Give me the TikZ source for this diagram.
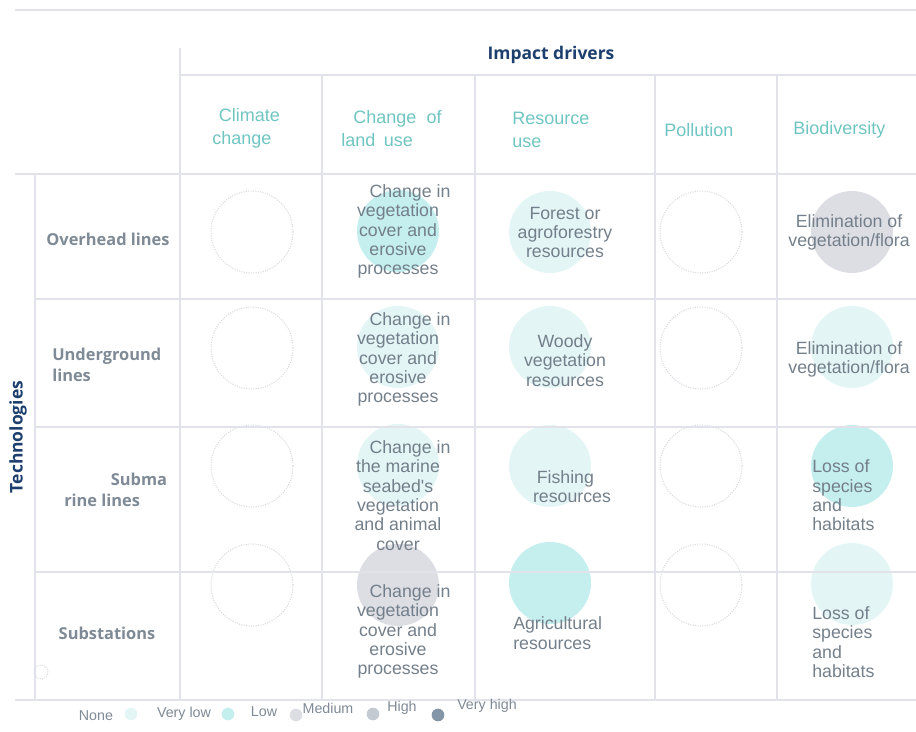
\documentclass[tikz,border=0pt]{standalone}
\usepackage{fontspec}
\setmainfont{Liberation Sans}
\newfontfamily\labelfont{Open Sans}
\definecolor{gridgray}{HTML}{E2E3EA}
\definecolor{navy}{HTML}{1D3F6E}
\definecolor{drvteal}{HTML}{6FC5C1}
\definecolor{rowgray}{HTML}{7E8A95}
\definecolor{celltxt}{HTML}{737F8A}
\definecolor{lvnone}{HTML}{D6DADF}
\definecolor{lvvlow}{HTML}{E4F5F5}
\definecolor{lvlow}{HTML}{C5EEEE}
\definecolor{lvmed}{HTML}{DCDEE3}
\definecolor{lvhigh}{HTML}{C4CAD1}
\definecolor{lvvhigh}{HTML}{8395A7}
\begin{document}
\begin{tikzpicture}[x=0.75pt, y=-0.75pt,
  gridline/.style={draw=gridgray, line width=1.4pt},
  cellcircle/.style={circle, inner sep=0pt, minimum size=61.5pt},
  nonedot/.style={cellcircle, draw=lvnone, densely dotted, line width=0.8pt},
  celltext/.style={inner sep=0pt, align=center, text=celltxt,
    font=\fontsize{13.3}{14.5}\selectfont},
  drvhead/.style={inner sep=0pt, anchor=west, align=left, text=drvteal,
    font=\fontsize{13.5}{17.2}\selectfont},
  techlabel/.style={inner sep=0pt, text=rowgray,
    font=\labelfont\bfseries\fontsize{12.3}{15.8}\selectfont},
  navyhead/.style={inner sep=0pt, text=navy,
    font=\labelfont\bfseries\fontsize{13.1}{16}\selectfont},
  legtext/.style={inner sep=0pt, text=rowgray, font=\fontsize{10.7}{12}\selectfont},
  legdot/.style={circle, inner sep=0pt, minimum size=9.5pt}]
  \useasboundingbox (0,0) rectangle (916,731);

  % impact circles
  \node[cellcircle, fill=lvlow] (ovh-land) at (398,231) {};
  \node[cellcircle, fill=lvvlow] (und-land) at (398,347) {};
  \node[cellcircle, fill=lvvlow] (sub-land) at (398,465) {};
  \node[cellcircle, fill=lvmed] (sst-land) at (398,585) {};
  \node[cellcircle, fill=lvvlow] (ovh-res) at (550,232) {};
  \node[cellcircle, fill=lvvlow] (und-res) at (550,347) {};
  \node[cellcircle, fill=lvvlow] (sub-res) at (550,466) {};
  \node[cellcircle, fill=lvlow] (sst-res) at (550,583) {};
  \node[cellcircle, fill=lvmed] (ovh-bio) at (852,232) {};
  \node[cellcircle, fill=lvvlow] (und-bio) at (852,347) {};
  \node[cellcircle, fill=lvlow] (sub-bio) at (852,466) {};
  \node[cellcircle, fill=lvvlow] (sst-bio) at (852,584) {};
  \foreach \r/\y in {ovh/232, und/348, sub/466, sst/585} {
    \node[nonedot] (\r-clim) at (252,\y) {};
    \node[nonedot] (\r-poll) at (701,\y) {};
  }

  % grid
  \draw[gridline] (15,10) -- (916,10);
  \draw[gridline] (180,48) -- (180,700);
  \draw[gridline] (180,75) -- (916,75);
  \draw[gridline] (15,174) -- (916,174);
  \foreach \y in {299,427,572}
    \draw[gridline] (35,\y) -- (916,\y);
  \draw[gridline] (15,700) -- (916,700);
  \draw[gridline] (35,174) -- (35,700);
  \foreach \x in {322,475,655,777}
    \draw[gridline] (\x,75) -- (\x,700);

  % headers
  \node[navyhead] (drivers) at (551,55) {Impact drivers};
  \node[navyhead, rotate=90] (techs) at (18,437) {Technologies};
  \node[drvhead] (h-clim) at (212,128.5) {\hspace*{5pt}Climate\\change};
  \node[drvhead] (h-land) at (341,128.5) {\hspace*{9pt}Change\hspace{0.3em} of\\land\hspace{0.2em} use};
  \node[drvhead] (h-res) at (512,130) {Resource\\use};
  \node[drvhead] (h-poll) at (664,130) {Pollution};
  \node[drvhead] (h-bio) at (793,130) {Biodiversity};

  % technologies
  \node[techlabel] (r-ovh) at (108,239) {Overhead lines};
  \node[techlabel, anchor=west, align=left] (r-und) at (52,364.5) {Underground\\lines};
  \node[techlabel, anchor=west, align=left] (r-sub) at (64,489.5) {\hspace*{35pt}Subma\\rine lines};
  \node[techlabel] (r-sst) at (107,633) {Substations};

  % cell texts
  \node[celltext] (ovh-land-t) at (398,231.5) {\hspace*{18pt}Change in\\vegetation\\cover and\\erosive\\processes};
  \node[celltext] (und-land-t) at (398,359.5) {\hspace*{18pt}Change in\\vegetation\\cover and\\erosive\\processes};
  \node[celltext] (sub-land-t) at (398,495.5) {\hspace*{18pt}Change in\\the marine\\seabed\textquotesingle s\\vegetation\\and animal\\cover};
  \node[celltext] (sst-land-t) at (398,631.5) {\hspace*{18pt}Change in\\vegetation\\cover and\\erosive\\processes};
  \node[celltext] (ovh-res-t) at (565,232.5) {Forest or\\agroforestry\\resources};
  \node[celltext] (und-res-t) at (565,360.5) {Woody\\vegetation\\resources};
  \node[celltext] (sub-res-t) at (572,486.5) {Fishing\hspace*{10pt}\\resources};
  \node[celltext, anchor=west, align=left] (sst-res-t) at (513,633) {Agricultural\\resources};
  \node[celltext] (ovh-bio-t) at (849,232.5) {Elimination of\\vegetation/flora};
  \node[celltext] (und-bio-t) at (849,359.5) {Elimination of\\vegetation/flora};
  \node[celltext, anchor=west, align=left] (sub-bio-t) at (812,495.5) {Loss of\\species\\and\\habitats};
  \node[celltext, anchor=west, align=left] (sst-bio-t) at (812,642) {Loss of\\species\\and\\habitats};

  % legend
  \node[circle, inner sep=0pt, minimum size=10.5pt, draw=lvnone, densely dotted, line width=0.7pt] (leg-none-dot) at (41,672) {};
  \node[legtext] (leg-none) at (96,716) {None};
  \node[legdot, fill=lvvlow] (leg-vlow-dot) at (131,714) {};
  \node[legtext] (leg-vlow) at (184,714) {Very low};
  \node[legdot, fill=lvlow] (leg-low-dot) at (228,714) {};
  \node[legtext] (leg-low) at (264,712) {Low};
  \node[legdot, fill=lvmed] (leg-med-dot) at (296,715) {};
  \node[legtext] (leg-med) at (328,708) {Medium};
  \node[legdot, fill=lvhigh] (leg-high-dot) at (373,714) {};
  \node[legtext] (leg-high) at (402,708) {High};
  \node[legdot, fill=lvvhigh] (leg-vhigh-dot) at (438,715) {};
  \node[legtext] (leg-vhigh) at (487,706) {Very high};
\end{tikzpicture}
\end{document}
